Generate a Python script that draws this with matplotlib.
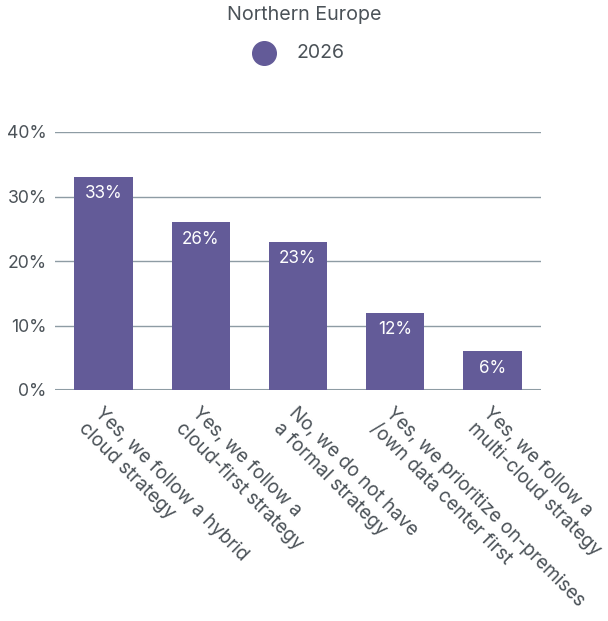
import matplotlib
matplotlib.use("Agg")
import matplotlib.pyplot as plt
from matplotlib.lines import Line2D

plt.rcParams['font.family'] = ['Inter', 'DejaVu Sans']

categories = [
    "Yes, we follow a hybrid\ncloud strategy",
    "Yes, we follow a\ncloud-first strategy",
    "No, we do not have\na formal strategy",
    "Yes, we prioritize on-premises\n/own data center first",
    "Yes, we follow a\nmulti-cloud strategy",
]
values = [33, 26, 23, 12, 6]
y_ticks = [0, 10, 20, 30, 40]
y_tick_labels = ["0%", "10%", "20%", "30%", "40%"]
series_name = "2026"
title = "Northern Europe"

bar_color = "#635b98"
text_color = "#4b5258"
grid_color = "#8e9ca4"

fig = plt.figure(figsize=(6.08, 6.21), dpi=100)
ax = fig.add_axes([55 / 608, 1 - 390 / 621, (541 - 55) / 608, (390 - 132) / 621])

x = range(len(categories))
ax.bar(x, values, width=0.6, color=bar_color, zorder=3)
for xi, v in zip(x, values):
    ax.annotate(f"{v}%", (xi, v), xytext=(0, -6), textcoords="offset points",
                ha="center", va="top", color="white", fontsize=12.3, zorder=4)

ax.set_xlim(-0.5, len(categories) - 0.5)
ax.set_ylim(0, 40)
ax.set_yticks(y_ticks)
ax.set_yticklabels(y_tick_labels)
ax.yaxis.grid(True, color=grid_color, linewidth=1.0, zorder=0)
ax.set_axisbelow(True)
for s in ax.spines.values():
    s.set_visible(False)
ax.tick_params(axis="y", length=0, pad=6, labelsize=12.7, labelcolor=text_color)
ax.tick_params(axis="x", length=0, pad=10)
ax.set_xticks(list(x))
ax.set_xticklabels(categories, rotation=-45, ha="left", va="top",
                   rotation_mode="anchor", fontsize=13.6, color=text_color,
                   multialignment="left", linespacing=1.3)

ax.axhline(0, color=grid_color, linewidth=1.5, zorder=2)

fig.text(0.5, 1 - 15 / 621, title, ha="center", va="center",
         fontsize=14.2, color=text_color)
fig.add_artist(Line2D([264 / 608], [1 - 53 / 621], marker="o", markersize=17,
                      color=bar_color, transform=fig.transFigure, linestyle="none"))
fig.text(297 / 608, 1 - 53 / 621, series_name, ha="left", va="center",
         fontsize=14, color=text_color)

fig.savefig("out.png", dpi=100, facecolor="white")
